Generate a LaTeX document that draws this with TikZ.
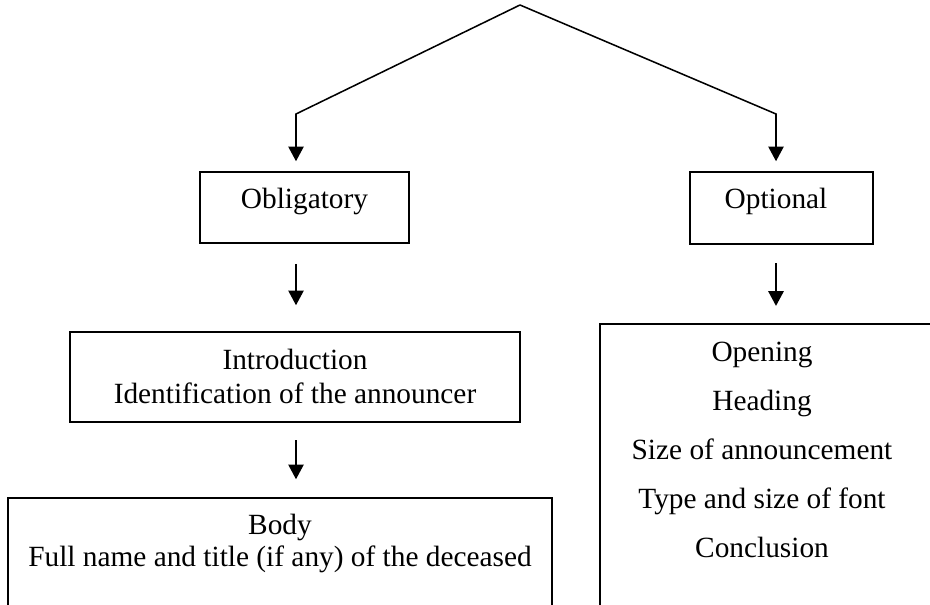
\documentclass[tikz,border=0pt]{standalone}
\usepackage{fontspec}
\setmainfont{Liberation Serif}
\usetikzlibrary{arrows.meta}
\begin{document}
\begin{tikzpicture}[x=0.75pt,y=-0.75pt,
  box/.style={draw, line width=1.15pt, rectangle, inner sep=0pt},
  arr/.style={line width=1.15pt, -{Triangle[length=11pt,width=11.5pt]}},
  lbl/.style={font=\fontsize{22}{25}\selectfont, anchor=base, inner sep=0pt}]
\useasboundingbox (0,0) rectangle (930,605);
\clip (0,0) rectangle (930,605);
% coordinates
\coordinate (apex) at (520,5);
\coordinate (lc) at (296,114);
\coordinate (rc) at (776,114);
% boxes
\node[box, minimum width=209*0.75pt, minimum height=71*0.75pt] (obl) at (304.5,207.5) {};
\node[box, minimum width=183*0.75pt, minimum height=72*0.75pt] (opt) at (781.5,208) {};
\node[box, minimum width=450*0.75pt, minimum height=90*0.75pt] (intro) at (295,377) {};
\node[box, minimum width=544*0.75pt, minimum height=142*0.75pt] (body) at (280,569) {};
\node[box, minimum width=335*0.75pt, minimum height=316*0.75pt] (list) at (767.5,482) {};
% texts
\node[lbl] (t1) at (304.5,209) {Obligatory};
\node[lbl] (t2) at (776,209) {Optional};
\node[lbl] (t3) at (295,369) {Introduction};
\node[lbl] (t4) at (295,403) {Identification of the announcer};
\node[lbl] (t5) at (280,534) {Body};
\node[lbl] (t6) at (280,566) {Full name and title (if any) of the deceased};
\node[lbl] (t7) at (762,361) {Opening};
\node[lbl] (t8) at (762,410) {Heading};
\node[lbl] (t9) at (762,459) {Size of announcement};
\node[lbl] (t10) at (762,508) {Type and size of font};
\node[lbl] (t11) at (762,557) {Conclusion};
% connectors
\draw[arr, shorten >=7.5pt] (apex) -- (lc) -- (lc |- obl.north);
\draw[arr, shorten >=7.5pt] (apex) -- (rc) -- (rc |- opt.north);
\draw[arr, shorten <=15pt, shorten >=19.5pt] (obl.south -| lc) -- (intro.north -| lc);
\draw[arr, shorten <=13pt, shorten >=13.5pt] (intro.south -| lc) -- (body.north -| lc);
\draw[arr, shorten <=14pt, shorten >=13pt] (opt.south -| rc) -- (list.north -| rc);
\end{tikzpicture}
\end{document}
